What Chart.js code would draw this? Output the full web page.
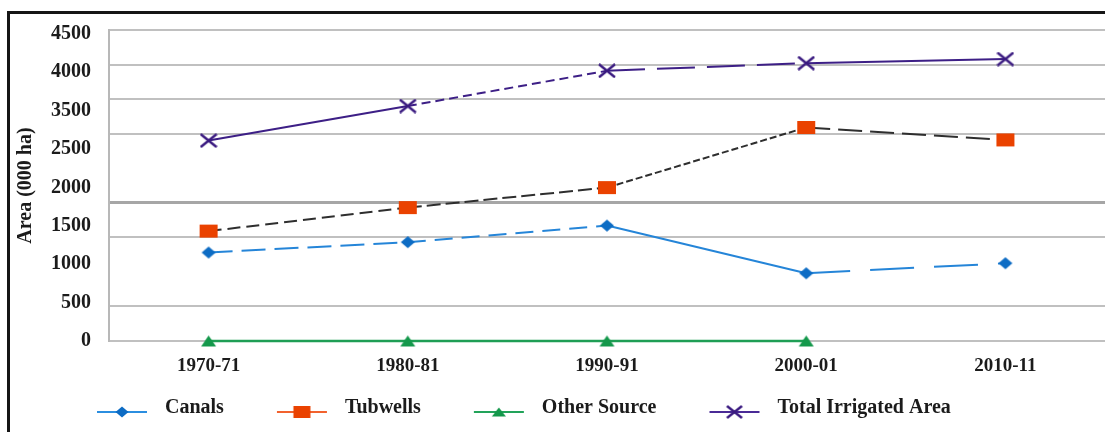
<!DOCTYPE html>
<html>
<head>
<meta charset="utf-8">
<script src="https://cdn.jsdelivr.net/npm/chart.js@4.4.1/dist/chart.umd.min.js"></script>
<style>
  html, body { margin: 0; padding: 0; background: #ffffff; overflow: hidden; }
  #wrap { position: relative; width: 1105px; height: 432px; }
  #frame {
    position: absolute; left: 7px; top: 11px; width: 1300px; height: 700px;
    border-top: 3px solid #161616; border-left: 3px solid #161616;
    pointer-events: none;
  }
  canvas { display: block; }
</style>
</head>
<body>
<div id="wrap">
  <canvas id="chart" width="1105" height="432"></canvas>
  <div id="frame"></div>
</div>
<script>
// Irrigated area by source ('000 ha)
const categories = ['1970-71', '1980-81', '1990-91', '2000-01', '2010-11'];
const canals = [1280, 1430, 1670, 980, 1125];
const tubwells = [1590, 1930, 2220, 3090, 2910];
const otherSource = [0, 0, 0, 0, null];
const totalIrrigated = [2900, 3400, 3910, 4020, 4080];
const seriesNames = ['Canals', 'Tubwells', 'Other Source', 'Total Irrigated Area'];
const yTickLabels = ['0', '500', '1000', '1500', '2000', '2500', '3500', '4000', '4500'];

const SERIF = '"Liberation Serif", "DejaVu Serif", serif';
const TEXT = '#1b1b1b';

// ---- marker shapes -------------------------------------------------------
function drawShape(g, shape, cx, cy, w, h, color) {
  g.save();
  g.fillStyle = color;
  g.strokeStyle = color;
  g.beginPath();
  if (shape === 'diamond') {
    g.moveTo(cx, cy - h / 2); g.lineTo(cx + w / 2, cy);
    g.lineTo(cx, cy + h / 2); g.lineTo(cx - w / 2, cy);
    g.closePath(); g.fill();
  } else if (shape === 'rect') {
    g.fillRect(cx - w / 2, cy - h / 2, w, h);
  } else if (shape === 'triangle') {
    g.moveTo(cx, cy - h / 2); g.lineTo(cx + w / 2, cy + h / 2);
    g.lineTo(cx - w / 2, cy + h / 2); g.closePath(); g.fill();
  } else if (shape === 'cross') {
    g.lineWidth = 2.4;
    g.moveTo(cx - w / 2, cy - h / 2); g.lineTo(cx + w / 2, cy + h / 2);
    g.moveTo(cx + w / 2, cy - h / 2); g.lineTo(cx - w / 2, cy + h / 2);
    g.stroke();
  }
  g.restore();
}

function markerImage(shape, w, h, color) {
  const c = document.createElement('canvas');
  c.width = w + 2; c.height = h + 2;
  drawShape(c.getContext('2d'), shape, c.width / 2, c.height / 2, w, h, color);
  return c;
}

// legend sample: short line with the marker in its middle
function legendIcon(shape, w, h, lineColor, markColor) {
  const c = document.createElement('canvas');
  c.width = 106; c.height = 26;
  const g = c.getContext('2d');
  g.strokeStyle = lineColor; g.lineWidth = 2;
  g.beginPath(); g.moveTo(48, 17); g.lineTo(98, 17); g.stroke();
  drawShape(g, shape, 73, 17, w, h, markColor);
  return c;
}

const pointImages = [
  markerImage('diamond', 14, 12, '#0d6cc4'),
  markerImage('rect', 18, 13, '#ea4200'),
  markerImage('triangle', 15, 11, '#14984b'),
  markerImage('cross', 16, 13, '#3a1a80')
];
const legendIcons = [
  legendIcon('diamond', 13, 11, '#2b8ee0', '#0d6cc4'),
  legendIcon('rect', 17, 12, '#f2622e', '#ea4200'),
  legendIcon('triangle', 14, 9, '#22a35a', '#14984b'),
  legendIcon('cross', 15, 12, '#4a2a96', '#3a1a80')
];

// dash pattern of each line segment
const canalsDash = [[24, 9], [18, 9], [], [44, 20]];
const tubwellsDash = [[13, 6], [14, 5], [7, 3], [24, 8]];
const totalDash = [[], [9, 5], [38, 12], []];

// moves the legend row sideways after layout
const legendNudge = {
  id: 'legendNudge',
  afterLayout(chart) {
    const l = chart.legend;
    if (l) { l.left += 34; l.right += 34; }
  }
};

const xTickFont = { family: SERIF, size: 19, weight: 'bold' };
const yTickFont = { family: SERIF, size: 20, weight: 'bold' };

new Chart(document.getElementById('chart'), {
  type: 'line',
  data: {
    labels: categories,
    datasets: [
      {
        label: seriesNames[0], data: canals, yAxisID: 'y', clip: false,
        borderColor: '#2585d8', borderWidth: 2,
        pointStyle: pointImages[0], pointRadius: 7,
        segment: { borderDash: c => canalsDash[c.p0DataIndex] }
      },
      {
        label: seriesNames[1], data: tubwells, yAxisID: 'y', clip: false,
        borderColor: '#2e2e2e', borderWidth: 2,
        pointStyle: pointImages[1], pointRadius: 7,
        segment: { borderDash: c => tubwellsDash[c.p0DataIndex] }
      },
      {
        label: seriesNames[2], data: otherSource, yAxisID: 'y', clip: false,
        borderColor: '#1f9e55', borderWidth: 2.5,
        pointStyle: pointImages[2], pointRadius: 7
      },
      {
        label: seriesNames[3], data: totalIrrigated, yAxisID: 'y', clip: false,
        borderColor: '#3d1f86', borderWidth: 2,
        pointStyle: pointImages[3], pointRadius: 7,
        segment: { borderDash: c => totalDash[c.p0DataIndex] }
      }
    ]
  },
  options: {
    responsive: false,
    animation: false,
    events: [],
    layout: { autoPadding: false, padding: { left: 10, top: 29, right: 0, bottom: 4 } },
    elements: { line: { tension: 0, fill: false } },
    scales: {
      x: {
        type: 'category',
        offset: true,
        grid: { display: false, drawTicks: false },
        border: { display: false },
        ticks: { font: xTickFont, color: TEXT, padding: 14, maxRotation: 0, autoSkip: false },
        afterFit: s => { s.height = 52; s.paddingLeft = 0; s.paddingRight = 0; }
      },
      yL: {
        type: 'linear',
        position: 'left',
        weight: 1,
        min: 0,
        max: 8.1,
        afterBuildTicks: s => { s.ticks = yTickLabels.map((_, i) => ({ value: i })); },
        ticks: { font: yTickFont, color: TEXT, padding: 18, callback: (v, i) => yTickLabels[i] },
        grid: { display: false, drawTicks: false },
        border: { display: false },
        title: {
          display: true, text: 'Area (000 ha)', color: TEXT,
          font: { family: SERIF, size: 20, weight: 'bold' },
          padding: { top: 4, bottom: 0 }
        },
        afterFit: s => { s.width = 99; }
      },
      y: {
        type: 'linear',
        position: 'left',
        weight: 0,
        min: 0,
        max: 4500,
        ticks: { stepSize: 500, display: false },
        grid: {
          drawTicks: false,
          color: c => {
            const v = c.tick && c.tick.value;
            if (v === 1000 || v === 2500) return 'rgba(0,0,0,0)';
            return v === 2000 ? '#a6a6a6' : '#c0c0c0';
          },
          lineWidth: c => (c.tick && c.tick.value === 2000 ? 3 : 2)
        },
        border: { display: true, color: '#b8b8b8', width: 2 },
        afterFit: s => { s.width = 0; }
      }
    },
    plugins: {
      tooltip: { enabled: false },
      legend: {
        position: 'bottom',
        align: 'start',
        labels: {
          usePointStyle: true,
          pointStyleWidth: 106,
          padding: 5,
          color: TEXT,
          font: { family: SERIF, size: 20, weight: 'bold' },
          generateLabels: chart => chart.data.datasets.map((ds, i) => ({
            text: ds.label,
            pointStyle: legendIcons[i],
            fillStyle: 'rgba(0,0,0,0)',
            strokeStyle: 'rgba(0,0,0,0)',
            lineWidth: 0,
            hidden: false,
            datasetIndex: i,
            fontColor: TEXT
          }))
        }
      }
    }
  },
  plugins: [legendNudge]
});
</script>
</body>
</html>
